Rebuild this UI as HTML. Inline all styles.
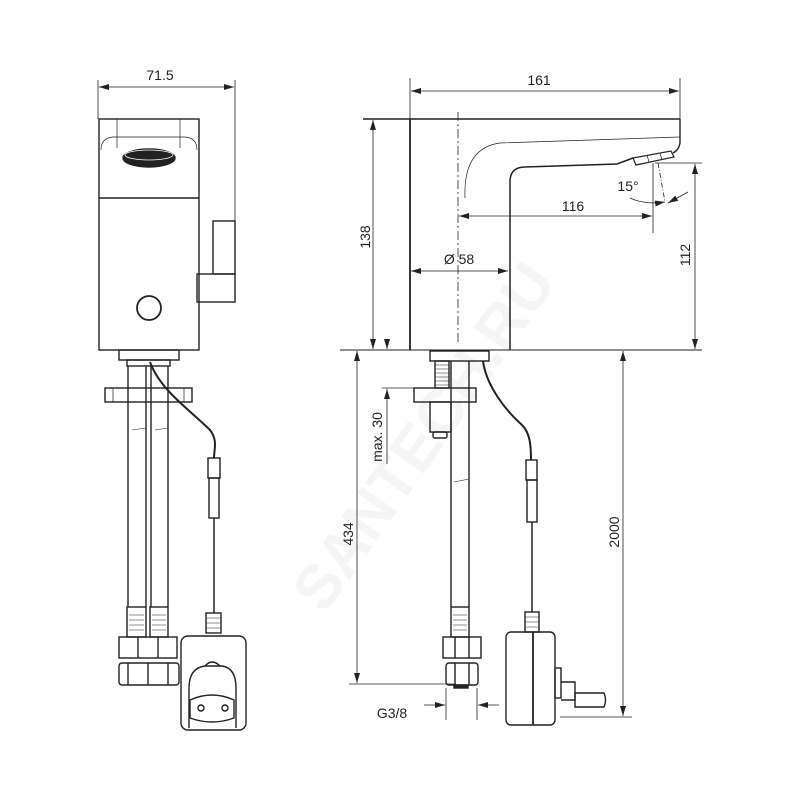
<!DOCTYPE html>
<html><head><meta charset="utf-8"><style>
html,body{margin:0;padding:0;background:#fff}
svg{display:block}
text{font-family:"Liberation Sans",sans-serif;fill:#222}
</style></head><body>
<svg width="800" height="800" viewBox="0 0 800 800" xmlns="http://www.w3.org/2000/svg">
<defs>
<marker id="a" viewBox="0 0 10 6" refX="10" refY="3" markerWidth="10" markerHeight="6" markerUnits="userSpaceOnUse" orient="auto-start-reverse"><path d="M0,0L10,3L0,6z" fill="#222"/></marker>
</defs>
<text x="400" y="470" font-size="62" font-weight="bold" style="fill:#f5f5f5" text-anchor="middle" transform="rotate(-55 400 420)">SANTECH.RU</text>
<g fill="none" stroke="#222" stroke-width="1.4">
<!-- LEFT VIEW -->
<line x1="98" y1="80" x2="98" y2="119" stroke-width="0.8"/>
<line x1="235" y1="80" x2="235" y2="221" stroke-width="0.8"/>
<line x1="99" y1="87" x2="234" y2="87" stroke-width="0.8" marker-start="url(#a)" marker-end="url(#a)"/>
<rect x="99" y="119" width="100" height="231"/>
<line x1="99" y1="198" x2="199" y2="198"/>
<path d="M117,119V148M180,119V148" stroke-width="0.7"/>
<path d="M101,150Q101,138 113,137H185Q197,138 197,150" stroke-width="0.7"/>
<ellipse cx="149" cy="158" rx="26" ry="9" fill="#222"/>
<ellipse cx="149" cy="155" rx="24" ry="5" stroke="#fff" stroke-width="0.8"/>
<rect x="213" y="221" width="22" height="53"/>
<rect x="197" y="274" width="38" height="28"/>
<circle cx="149" cy="308" r="12" stroke-width="1.8"/>
<rect x="119" y="350" width="60" height="10"/>
<rect x="127" y="360" width="43" height="6"/>
<path d="M128,366V607M146,366V607M151,366V607M168,366V607"/>
<path d="M132,430L146,428M155,430L168,428" stroke-width="0.6"/>
<rect x="105" y="388" width="87" height="14"/>
<path d="M113,388V402M184,388V402" stroke-width="0.7"/>
<rect x="127" y="607" width="19" height="30"/><rect x="150" y="607" width="18" height="30"/>
<path d="M129,615H144M129,620H144M129,625H144M129,630H144M152,615H166M152,620H166M152,625H166M152,630H166" stroke-width="0.6"/>
<rect x="119" y="637" width="58" height="21"/>
<path d="M138,637V658M158,637V658"/>
<rect x="119" y="663" width="60" height="22" rx="3"/>
<path d="M128,663V685M148,663V685M168,663V685"/>
<path d="M150,362C160,390 190,410 210,430C218,440 214,450 214,458" stroke-width="2"/>
<rect x="208" y="458" width="12" height="20"/><rect x="209" y="478" width="10" height="40"/>
<line x1="214" y1="518" x2="214" y2="613" stroke-width="1.5"/>
<rect x="206" y="613" width="15" height="20"/>
<path d="M206,618H221M206,623H221M206,628H221" stroke-width="0.6"/>
<rect x="181" y="636" width="65" height="94" rx="7"/>
<path d="M189,728V688Q189,668 205,666H222Q236,668 236,688V728" />
<path d="M205,666Q212,658 220,666"/>
<path d="M190,700Q212,690 234,700V718Q212,726 190,718Z"/>
<circle cx="201" cy="708" r="3"/><circle cx="225" cy="708" r="3"/>
<!-- RIGHT VIEW -->
<line x1="410" y1="78" x2="410" y2="135" stroke-width="0.8"/>
<line x1="680" y1="78" x2="680" y2="119" stroke-width="0.8"/>
<line x1="411" y1="91" x2="679" y2="91" stroke-width="0.8" marker-start="url(#a)" marker-end="url(#a)"/>
<line x1="363" y1="119" x2="680" y2="119"/>
<line x1="410" y1="119" x2="410" y2="350" stroke-width="1.8"/>
<path d="M680,119V143Q679,150 673,153"/>
<path d="M465,198Q463,148 500,143L680,137" stroke-width="0.7"/>
<path d="M510,350V180Q511,167 525,167L617,164L633,158" stroke-width="1.5"/>
<path d="M633,158L671,151L674,157L636,165Z" stroke-width="1.2"/>
<path d="M647,155L649,162M660,153L662,160" stroke-width="0.7"/>
<line x1="458" y1="112" x2="458" y2="345" stroke-dasharray="9,3,2,3" stroke-width="0.8"/>
<line x1="653" y1="163" x2="653" y2="233" stroke-width="0.8"/>
<line x1="459" y1="216" x2="652" y2="216" stroke-width="0.8" marker-start="url(#a)" marker-end="url(#a)"/>
<line x1="658" y1="163" x2="665" y2="202" stroke-width="0.8" stroke-dasharray="5,2,1,2"/>
<path d="M630,198Q645,205 665,202" stroke-width="0.8" marker-end="url(#a)"/>
<path d="M688,192L668,203" stroke-width="0.8" marker-end="url(#a)"/>
<line x1="655" y1="163" x2="702" y2="163" stroke-width="0.8"/>
<line x1="695" y1="164" x2="695" y2="349" stroke-width="0.8" marker-start="url(#a)" marker-end="url(#a)"/>
<line x1="373" y1="120" x2="373" y2="349" stroke-width="0.8" marker-start="url(#a)" marker-end="url(#a)"/>
<line x1="411" y1="271" x2="508" y2="271" stroke-width="0.8" marker-start="url(#a)" marker-end="url(#a)"/>
<line x1="340" y1="350" x2="702" y2="350" stroke-width="1"/>
<rect x="430" y="351" width="59" height="10"/>
<rect x="435" y="361" width="14" height="27"/>
<path d="M435,365H449M435,369H449M435,373H449M435,377H449M435,381H449M435,385H449" stroke-width="0.6"/>
<path d="M451,361V607M469,361V607"/>
<path d="M454,482L469,479" stroke-width="0.6"/>
<rect x="414" y="388" width="62" height="14"/>
<rect x="430" y="402" width="21" height="30"/>
<rect x="433" y="432" width="14" height="6" rx="2"/>
<line x1="382" y1="388" x2="414" y2="388" stroke-width="0.8"/>
<line x1="387" y1="340" x2="387" y2="349" stroke-width="0.8" marker-end="url(#a)"/>
<line x1="387" y1="398" x2="387" y2="389" stroke-width="0.8" marker-end="url(#a)"/>
<line x1="387" y1="389" x2="387" y2="464" stroke-width="0.8"/>
<line x1="357" y1="351" x2="357" y2="683" stroke-width="0.8" marker-start="url(#a)" marker-end="url(#a)"/>
<line x1="349" y1="684" x2="456" y2="684" stroke-width="0.8"/>
<rect x="451" y="607" width="18" height="30"/>
<path d="M453,615H467M453,620H467M453,625H467M453,630H467" stroke-width="0.6"/>
<rect x="443" y="637" width="38" height="21"/>
<path d="M455,637V658M469,637V658"/>
<rect x="446" y="663" width="32" height="22" rx="3"/>
<path d="M455,663V685M469,663V685"/>
<rect x="454" y="685" width="14" height="3" fill="#222"/>
<line x1="446" y1="688" x2="446" y2="720" stroke-width="0.8"/>
<line x1="477" y1="688" x2="477" y2="720" stroke-width="0.8"/>
<line x1="424" y1="705" x2="445" y2="705" stroke-width="0.8" marker-end="url(#a)"/>
<line x1="499" y1="705" x2="478" y2="705" stroke-width="0.8" marker-end="url(#a)"/>
<path d="M483,361C486,385 505,410 522,425C530,433 531,445 531,460" stroke-width="2"/>
<rect x="526" y="460" width="11" height="20"/><rect x="527" y="480" width="10" height="42"/>
<line x1="532" y1="522" x2="532" y2="612" stroke-width="1.5"/>
<rect x="525" y="612" width="14" height="20"/>
<path d="M525,617H539M525,622H539M525,627H539" stroke-width="0.6"/>
<rect x="506" y="632" width="49" height="93" rx="5"/>
<line x1="533" y1="632" x2="533" y2="725" stroke-width="1.8"/>
<rect x="555" y="668" width="6" height="30"/>
<path d="M561,682H575V700H561"/>
<path d="M575,693H604Q607,700 604,707H575Z"/>
<line x1="623" y1="351" x2="623" y2="716" stroke-width="0.8" marker-start="url(#a)" marker-end="url(#a)"/>
<line x1="560" y1="717" x2="632" y2="717" stroke-width="0.8"/>
</g>
<g font-size="14">
<text x="160" y="80" text-anchor="middle">71.5</text>
<text x="539" y="85" text-anchor="middle">161</text>
<text x="573" y="211" text-anchor="middle">116</text>
<text x="628" y="191" text-anchor="middle">15°</text>
<text x="459" y="264" text-anchor="middle">Ø 58</text>
<text x="392" y="718" text-anchor="middle">G3/8</text>
<text transform="translate(370,237) rotate(-90)" text-anchor="middle">138</text>
<text transform="translate(690,255) rotate(-90)" text-anchor="middle">112</text>
<text transform="translate(382,437) rotate(-90)" text-anchor="middle">max. 30</text>
<text transform="translate(353,534) rotate(-90)" text-anchor="middle">434</text>
<text transform="translate(619,532) rotate(-90)" text-anchor="middle">2000</text>
</g>
</svg>
</body></html>
